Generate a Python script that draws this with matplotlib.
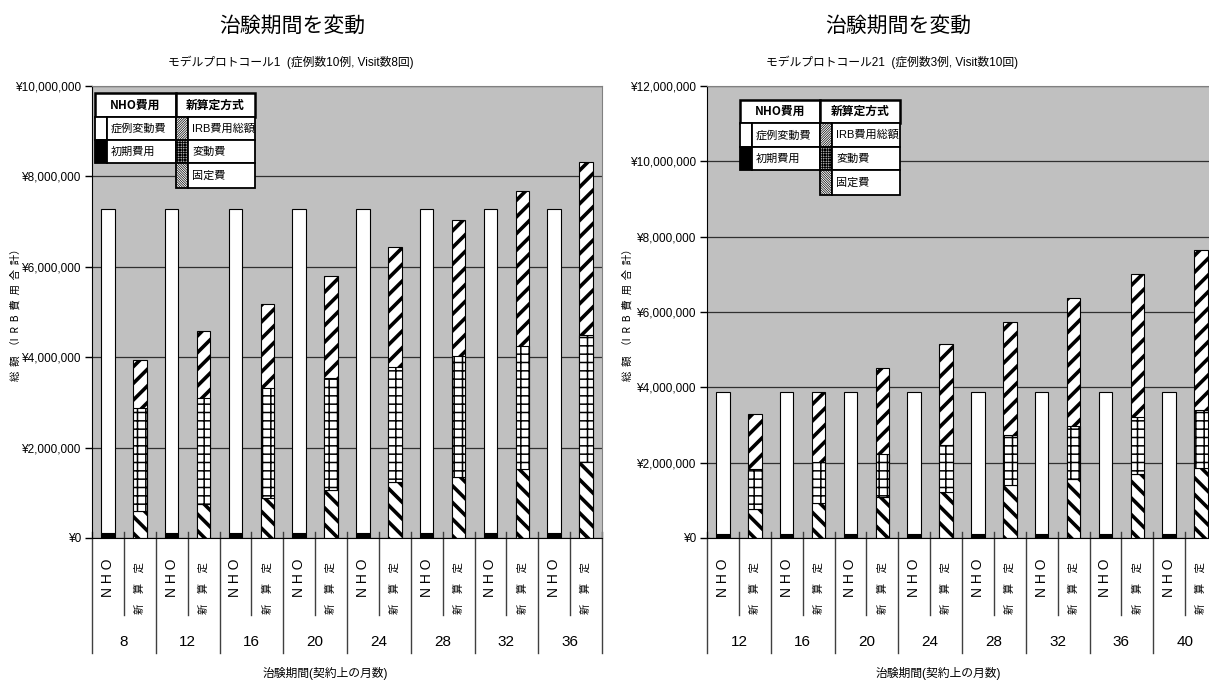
import matplotlib.pyplot as plt
from matplotlib.patches import Rectangle
from matplotlib.lines import Line2D
from matplotlib.ticker import FuncFormatter, MultipleLocator
from matplotlib.transforms import blended_transform_factory


W, H = 1209, 688
CJK = "Noto Sans CJK JP"
LATIN = ["Liberation Sans", CJK, "DejaVu Sans"]

plt.rcParams["font.family"] = LATIN

# Model protocol 1 (10 cases, 8 visits)
p1_months = ["8", "12", "16", "20", "24", "28", "32", "36"]
p1_nho_initial = [100000, 100000, 100000, 100000, 100000, 100000, 100000, 100000]
p1_nho_case = [7180000, 7180000, 7180000, 7180000, 7180000, 7180000, 7180000, 7180000]
p1_fixed = [600000, 750000, 880000, 1060000, 1230000, 1360000, 1520000, 1690000]
p1_variable = [2270000, 2340000, 2440000, 2490000, 2560000, 2670000, 2720000, 2800000]
p1_irb_total = [3930000, 4570000, 5180000, 5790000, 6430000, 7040000, 7670000, 8310000]

# Model protocol 21 (3 cases, 10 visits)
p21_months = ["12", "16", "20", "24", "28", "32", "36", "40"]
p21_nho_initial = [100000, 100000, 100000, 100000, 100000, 100000, 100000, 100000]
p21_nho_case = [3780000, 3780000, 3780000, 3780000, 3780000, 3780000, 3780000, 3780000]
p21_fixed = [760000, 920000, 1100000, 1230000, 1410000, 1560000, 1700000, 1870000]
p21_variable = [1060000, 1100000, 1130000, 1240000, 1320000, 1410000, 1500000, 1540000]
p21_irb_total = [3290000, 3880000, 4520000, 5160000, 5740000, 6380000, 7000000, 7640000]


def fx(x):
    return x / W


def fy(y):
    return 1 - y / H


def hatched_bars(ax, x, heights, bottom, hatch, hatch_lw):
    with plt.rc_context({"hatch.linewidth": hatch_lw}):
        bars = ax.bar(x, heights, width=0.42, bottom=bottom, color="white",
                      edgecolor="black", linewidth=0.8, hatch=hatch)
    for p in bars:
        if hasattr(p, "set_hatch_linewidth"):
            p.set_hatch_linewidth(hatch_lw)
    return bars


def draw_panel(fig, left, right, top, bottom, months, nho_initial, nho_case,
               fixed, variable, irb_total, ymax):
    ax = fig.add_axes([fx(left), fy(bottom), (right - left) / W, (bottom - top) / H])
    ax.set_facecolor("#c0c0c0")

    n = len(months)
    x_nho = [2 * i for i in range(n)]
    x_new = [2 * i + 1 for i in range(n)]

    # NHO cost: initial cost + per-case cost
    ax.bar(x_nho, nho_initial, width=0.42, color="black", edgecolor="black", linewidth=0.8)
    ax.bar(x_nho, nho_case, width=0.42, bottom=nho_initial, color="white",
           edgecolor="black", linewidth=0.8)

    # new method: IRB total behind, fixed + variable stacked on top of it
    hatched_bars(ax, x_new, irb_total, 0, "//", 2.6)
    hatched_bars(ax, x_new, fixed, 0, "\\\\", 2.6)
    hatched_bars(ax, x_new, variable, fixed, "++", 1.1)

    ax.set_xlim(-0.5, 2 * n - 0.5)
    ax.set_ylim(0, ymax)
    ax.yaxis.set_major_locator(MultipleLocator(2000000))
    ax.yaxis.set_major_formatter(FuncFormatter(lambda v, pos: f"¥{v:,.0f}"))
    ax.tick_params(axis="y", length=5, width=1, pad=3, labelsize=8.5)
    ax.set_xticks([])
    ax.yaxis.grid(True, color="#303030", linewidth=0.9)
    ax.set_axisbelow(True)

    for side in ["left", "bottom"]:
        ax.spines[side].set_color("black")
    for side in ["top", "right"]:
        ax.spines[side].set_color("#808080")

    # category separators below the plot
    trans = blended_transform_factory(ax.transData, ax.transAxes)
    span = bottom - top
    for b in range(2 * n + 1):
        low = 653 if b % 2 == 0 else 615
        ax.add_line(Line2D([b - 0.5, b - 0.5], [6 / span, -(low - bottom) / span],
                           transform=trans, color="#404040", linewidth=1,
                           clip_on=False))

    for i, m in enumerate(months):
        ax.text(2 * i, -(578 - bottom) / span, "N H O", transform=trans,
                rotation=90, ha="center", va="center", fontsize=10)
        ax.text(2 * i + 1, -(588 - bottom) / span, "新\u3000算\u3000定",
                transform=trans, rotation=90, ha="center", va="center",
                fontsize=7.5, family=CJK)
        ax.text(2 * i + 0.5, -(642 - bottom) / span, m, transform=trans,
                ha="center", va="center", fontsize=11)
    return ax


def draw_legend(fig, x0, x1, x2, rows):
    # rows: y of header top, then each row boundary
    def cell(xa, ya, xb, yb, face="white", hatch=None, lw=1.3):
        r = Rectangle((fx(xa), fy(yb)), (xb - xa) / W, (yb - ya) / H,
                      transform=fig.transFigure, facecolor=face,
                      edgecolor="black", linewidth=lw, hatch=hatch, zorder=5)
        if hatch is not None and hasattr(r, "set_hatch_linewidth"):
            r.set_hatch_linewidth(0.5)
        fig.add_artist(r)

    sw = 12
    y0, y1, y2, y3, y4 = rows
    # headers
    cell(x0, y0, x1, y1, lw=1.8)
    cell(x1, y0, x2, y1, lw=1.8)
    fig.text(fx((x0 + x1) / 2), fy((y0 + y1) / 2), "NHO費用", ha="center",
             va="center", fontsize=8.5, fontweight="bold", family=[CJK], zorder=6)
    fig.text(fx((x1 + x2) / 2), fy((y0 + y1) / 2), "新算定方式", ha="center",
             va="center", fontsize=8.5, fontweight="bold", family=[CJK], zorder=6)

    # NHO column
    cell(x0, y1, x0 + sw, y2, face="white")
    cell(x0 + sw, y1, x1, y2)
    cell(x0, y2, x0 + sw, y3, face="black")
    cell(x0 + sw, y2, x1, y3)
    for y_a, y_b, s in [(y1, y2, "症例変動費"), (y2, y3, "初期費用")]:
        fig.text(fx(x0 + sw + 4), fy((y_a + y_b) / 2), s, ha="left", va="center",
                 fontsize=8, family=[CJK], zorder=6)

    # new method column
    with plt.rc_context({"hatch.linewidth": 0.5}):
        for y_a, y_b, h, s in [(y1, y2, "/" * 14, "IRB費用総額"),
                               (y2, y3, "+" * 10, "変動費"),
                               (y3, y4, "\\" * 14, "固定費")]:
            cell(x1, y_a, x1 + sw, y_b, hatch=h)
            cell(x1 + sw, y_a, x2, y_b)
            fig.text(fx(x1 + sw + 4), fy((y_a + y_b) / 2), s, ha="left",
                     va="center", fontsize=8, family=LATIN, zorder=6)


fig = plt.figure(figsize=(W / 100, H / 100), dpi=100)

draw_panel(fig, 92, 602, 86, 538, p1_months, p1_nho_initial, p1_nho_case,
           p1_fixed, p1_variable, p1_irb_total, 10000000)
draw_panel(fig, 707, 1217, 86, 538, p21_months, p21_nho_initial, p21_nho_case,
           p21_fixed, p21_variable, p21_irb_total, 12000000)

draw_legend(fig, 95, 176, 255, [93, 117, 140, 163, 188])
draw_legend(fig, 740, 820, 900, [100, 123, 147, 170, 195])

# titles
for cx, sx, sub in [(292, 291, "モデルプロトコール1  (症例数10例, Visit数8回)"),
                    (898, 892, "モデルプロトコール21  (症例数3例, Visit数10回)")]:
    fig.text(fx(cx), fy(26), "治験期間を変動", ha="center", va="center",
             fontsize=15, family=[CJK])
    fig.text(fx(sx), fy(62), sub, ha="center", va="center", fontsize=8.5,
             family=LATIN)

for cx in [325, 938]:
    fig.text(fx(cx), fy(673), "治験期間(契約上の月数)", ha="center", va="center",
             fontsize=8.5, family=LATIN)

for cx in [16, 628]:
    fig.text(fx(cx), fy(312), "総  額  （I  R  B  費  用  合  計）", rotation=90,
             ha="center", va="center", fontsize=7.5, family=[CJK])

fig.savefig("out.png", dpi=100, facecolor="white")
